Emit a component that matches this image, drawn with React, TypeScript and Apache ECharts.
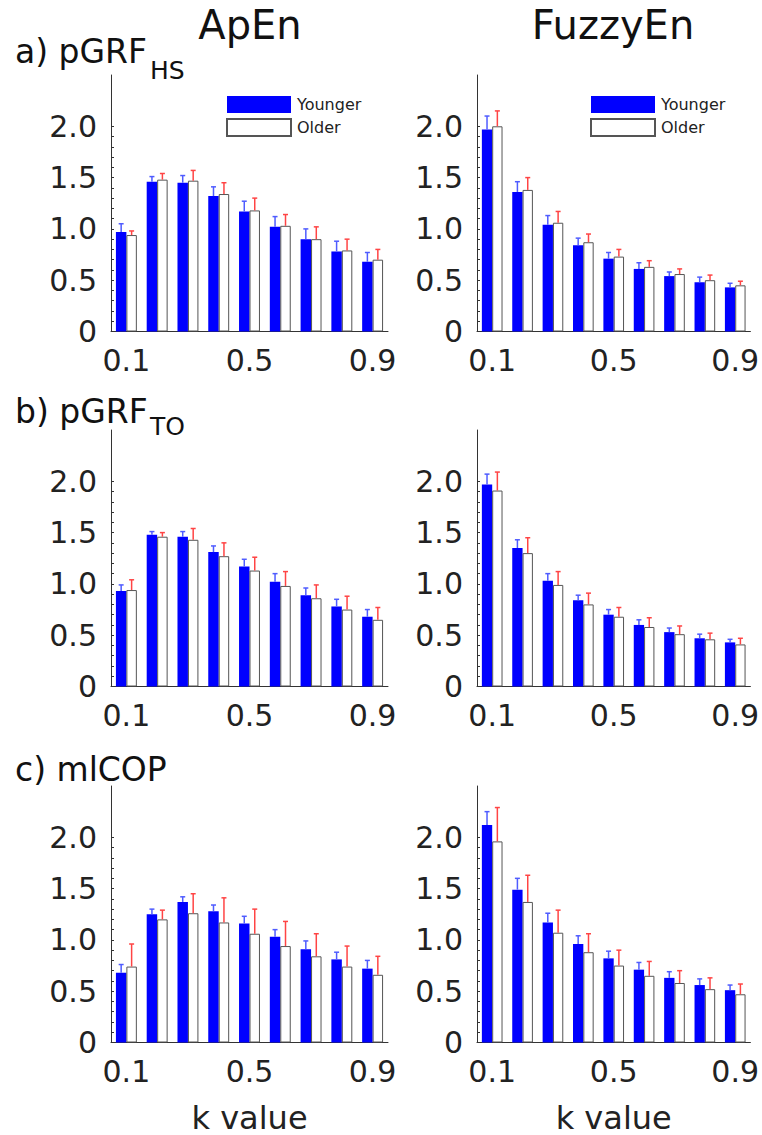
import React, { useEffect, useRef } from "react";
import * as echarts from "echarts";

const kValues = ["0.1", "0.2", "0.3", "0.4", "0.5", "0.6", "0.7", "0.8", "0.9"];
const yTickValues = [0, 0.1, 0.2, 0.3, 0.4, 0.5, 0.6, 0.7, 0.8, 0.9, 1.0, 1.1, 1.2, 1.3, 1.4, 1.5, 1.6, 1.7, 1.8, 1.9, 2.0];
const yLabelValues = [0, 0.5, 1.0, 1.5, 2.0];
const columnTitles = ["ApEn", "FuzzyEn"];
const groupNames = ["Younger", "Older"];

// a) pGRF_HS
const apenHsYoung = [0.97, 1.46, 1.45, 1.32, 1.17, 1.02, 0.90, 0.78, 0.68];
const apenHsYoungSd = [0.08, 0.05, 0.07, 0.09, 0.10, 0.10, 0.10, 0.10, 0.09];
const apenHsOld = [0.94, 1.48, 1.47, 1.34, 1.18, 1.03, 0.90, 0.79, 0.70];
const apenHsOldSd = [0.04, 0.06, 0.10, 0.11, 0.12, 0.11, 0.12, 0.11, 0.10];
const fuzzyHsYoung = [1.97, 1.36, 1.04, 0.84, 0.71, 0.61, 0.54, 0.48, 0.43];
const fuzzyHsYoungSd = [0.13, 0.10, 0.09, 0.07, 0.06, 0.06, 0.04, 0.05, 0.04];
const fuzzyHsOld = [2.00, 1.38, 1.06, 0.87, 0.73, 0.63, 0.56, 0.50, 0.45];
const fuzzyHsOldSd = [0.15, 0.12, 0.11, 0.08, 0.07, 0.06, 0.05, 0.05, 0.04];

// b) pGRF_TO
const apenToYoung = [0.93, 1.48, 1.46, 1.31, 1.17, 1.02, 0.89, 0.78, 0.68];
const apenToYoungSd = [0.06, 0.03, 0.05, 0.06, 0.07, 0.08, 0.07, 0.07, 0.07];
const apenToOld = [0.94, 1.46, 1.43, 1.27, 1.13, 0.98, 0.86, 0.75, 0.65];
const apenToOldSd = [0.10, 0.04, 0.11, 0.13, 0.13, 0.14, 0.13, 0.13, 0.12];
const fuzzyToYoung = [1.97, 1.35, 1.03, 0.84, 0.70, 0.60, 0.53, 0.47, 0.43];
const fuzzyToYoungSd = [0.10, 0.08, 0.07, 0.05, 0.05, 0.05, 0.04, 0.04, 0.03];
const fuzzyToOld = [1.91, 1.30, 0.99, 0.80, 0.68, 0.58, 0.51, 0.46, 0.41];
const fuzzyToOldSd = [0.18, 0.15, 0.13, 0.11, 0.09, 0.09, 0.08, 0.06, 0.06];

// c) mlCOP
const apenCopYoung = [0.68, 1.25, 1.37, 1.28, 1.16, 1.03, 0.91, 0.81, 0.72];
const apenCopYoungSd = [0.08, 0.05, 0.05, 0.06, 0.07, 0.07, 0.08, 0.07, 0.08];
const apenCopOld = [0.74, 1.20, 1.26, 1.17, 1.06, 0.94, 0.84, 0.74, 0.66];
const apenCopOldSd = [0.22, 0.09, 0.19, 0.24, 0.24, 0.24, 0.22, 0.20, 0.18];
const fuzzyCopYoung = [2.12, 1.49, 1.17, 0.96, 0.82, 0.71, 0.63, 0.56, 0.51];
const fuzzyCopYoungSd = [0.13, 0.11, 0.09, 0.08, 0.07, 0.07, 0.06, 0.06, 0.05];
const fuzzyCopOld = [1.96, 1.37, 1.07, 0.88, 0.75, 0.65, 0.58, 0.52, 0.47];
const fuzzyCopOldSd = [0.33, 0.26, 0.22, 0.18, 0.15, 0.14, 0.12, 0.11, 0.10];

const panels = [
  { young: apenHsYoung, youngSd: apenHsYoungSd, old: apenHsOld, oldSd: apenHsOldSd },
  { young: fuzzyHsYoung, youngSd: fuzzyHsYoungSd, old: fuzzyHsOld, oldSd: fuzzyHsOldSd },
  { young: apenToYoung, youngSd: apenToYoungSd, old: apenToOld, oldSd: apenToOldSd },
  { young: fuzzyToYoung, youngSd: fuzzyToYoungSd, old: fuzzyToOld, oldSd: fuzzyToOldSd },
  { young: apenCopYoung, youngSd: apenCopYoungSd, old: apenCopOld, oldSd: apenCopOldSd },
  { young: fuzzyCopYoung, youngSd: fuzzyCopYoungSd, old: fuzzyCopOld, oldSd: fuzzyCopOldSd },
];

const FONT = "DejaVu Sans";
const TEXT = "#222222";
const AXIS = "#333333";
const BLUE = "#0000ff";
const BAR_FRAC = 0.34;

const colLeft = [111, 477];
const colWidth = [277, 275];
const rowTop = [75, 430, 786];
const rowHeight = 256.5;

function errSeries(idx: number, vals: number[], sds: number[], color: string, side: number) {
  return {
    type: "custom",
    xAxisIndex: idx,
    yAxisIndex: idx,
    z: 5,
    silent: true,
    encode: { x: 0, y: [1, 2] },
    data: vals.map((v, i) => [i, v, +(v + sds[i]).toFixed(3)]),
    renderItem: (params: any, api: any) => {
      const i = api.value(0);
      const base = api.coord([i, api.value(1)]);
      const top = api.coord([i, api.value(2)]);
      const bw = api.size([1, 0])[0] * BAR_FRAC;
      const x = base[0] + (side * bw) / 2;
      return {
        type: "group",
        children: [
          { type: "line", shape: { x1: x, y1: base[1], x2: x, y2: top[1] }, style: { stroke: color, lineWidth: 1.5 } },
          { type: "line", shape: { x1: x - 2.5, y1: top[1], x2: x + 2.5, y2: top[1] }, style: { stroke: color, lineWidth: 1.5 } },
        ],
      };
    },
  };
}

export default function App() {
  const ref = useRef<HTMLDivElement>(null);
  useEffect(() => {
    document.body.style.margin = "0";
    if (!ref.current) return;
    const chart = echarts.init(ref.current, null, { renderer: "svg" });

    const grids: any[] = [];
    const xAxes: any[] = [];
    const yAxes: any[] = [];
    const series: any[] = [];

    panels.forEach((p, idx) => {
      const col = idx % 2;
      const row = Math.floor(idx / 2);
      grids.push({ left: colLeft[col], top: rowTop[row], width: colWidth[col], height: rowHeight });
      xAxes.push({
        type: "category",
        gridIndex: idx,
        data: kValues,
        axisTick: { show: false },
        axisLine: { lineStyle: { color: AXIS, width: 1 } },
        axisLabel: {
          interval: (i: number) => i === 0 || i === 4 || i === 8,
          fontFamily: FONT,
          fontSize: 30,
          color: TEXT,
          margin: 14,
        },
        name: row === 2 ? "k value" : "",
        nameLocation: "middle",
        nameGap: 59,
        nameTextStyle: { fontFamily: FONT, fontSize: 32, color: TEXT },
      });
      yAxes.push({
        type: "value",
        gridIndex: idx,
        min: 0,
        max: 2.5,
        interval: 0.5,
        splitLine: { show: false },
        axisLine: { show: true, lineStyle: { color: AXIS, width: 1 } },
        axisTick: { show: true, inside: true, length: 3, customValues: yTickValues, lineStyle: { color: AXIS } },
        axisLabel: {
          customValues: yLabelValues,
          fontFamily: FONT,
          fontSize: 30,
          color: TEXT,
          margin: 14,
          formatter: (v: number) => (v === 0 ? "0" : v.toFixed(1)),
        },
      });
      series.push({
        type: "bar",
        name: groupNames[0],
        xAxisIndex: idx,
        yAxisIndex: idx,
        data: p.young,
        barWidth: "34%",
        barGap: "0%",
        itemStyle: { color: BLUE },
      });
      series.push({
        type: "bar",
        name: groupNames[1],
        xAxisIndex: idx,
        yAxisIndex: idx,
        data: p.old,
        barWidth: "34%",
        barGap: "0%",
        itemStyle: { color: "#ffffff", borderColor: "#555555", borderWidth: 1 },
      });
      series.push(errSeries(idx, p.young, p.youngSd, "#4f5cff", -1));
      series.push(errSeries(idx, p.old, p.oldSd, "#ff4444", 1));
    });

    const legendBase = {
      orient: "vertical",
      padding: 0,
      itemWidth: 64,
      itemHeight: 17,
      itemGap: 5,
      icon: "rect",
      selectedMode: false,
      data: groupNames,
      textStyle: { fontFamily: FONT, fontSize: 16, color: TEXT, padding: [0, 0, 0, 1] },
    };

    const rowLabels = [
      { main: "a) pGRF", sub: "HS", y: 51, subY: 70 },
      { main: "b) pGRF", sub: "TO", y: 411, subY: 426 },
      { main: "c) mlCOP", sub: "", y: 769, subY: 769 },
    ];
    const graphics: any[] = [];
    columnTitles.forEach((t, c) => {
      graphics.push({
        type: "text",
        x: c === 0 ? 250 : 613,
        y: 25,
        style: { text: t, fontFamily: FONT, fontSize: 40, fill: "#111", align: "center", verticalAlign: "middle" },
      });
    });
    rowLabels.forEach((r) => {
      graphics.push({
        type: "text",
        x: 15,
        y: r.y,
        style: { text: r.main, fontFamily: FONT, fontSize: 33, fill: "#111", align: "left", verticalAlign: "middle" },
      });
      if (r.sub) {
        graphics.push({
          type: "text",
          x: 150,
          y: r.subY,
          style: { text: r.sub, fontFamily: FONT, fontSize: 25, fill: "#111", align: "left", verticalAlign: "middle" },
        });
      }
    });

    chart.setOption({
      animation: false,
      backgroundColor: "#ffffff",
      grid: grids,
      xAxis: xAxes,
      yAxis: yAxes,
      series,
      legend: [
        { ...legendBase, left: 226, top: 96 },
        { ...legendBase, left: 590, top: 96 },
      ],
      graphic: graphics,
    });
    return () => chart.dispose();
  }, []);
  return <div ref={ref} style={{ width: 762, height: 1135 }} />;
}
